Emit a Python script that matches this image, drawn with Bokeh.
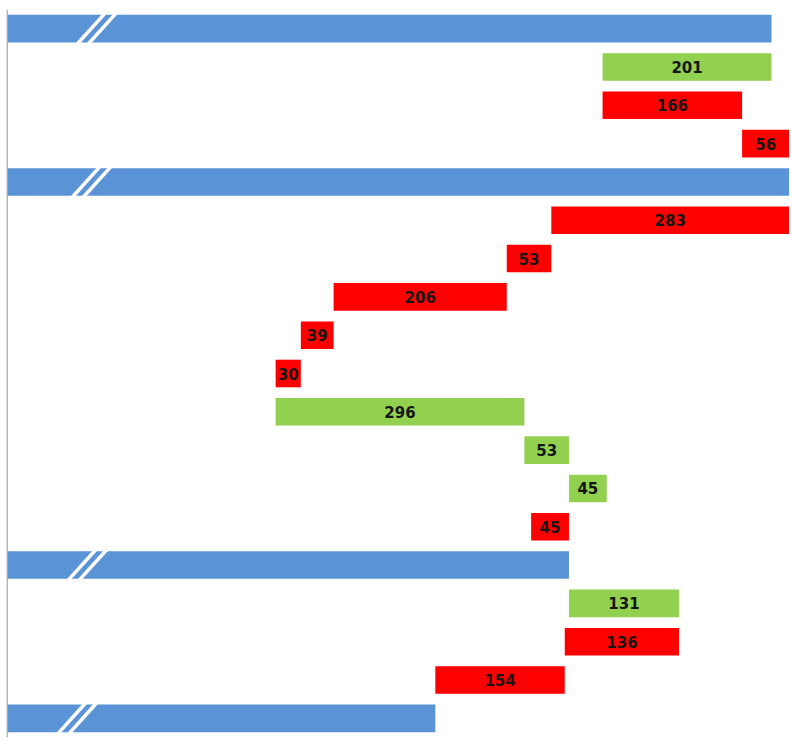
from bokeh.plotting import figure
from bokeh.models import Range1d, Span, ColumnDataSource
from bokeh.core.properties import value
from bokeh.embed import file_html
from bokeh.resources import INLINE

# ---- data ----
axis_start = 4000
# row kinds: "total" = subtotal bar (blue), otherwise a change bar
row_kind = ["total", "chg", "chg", "chg",
            "total", "chg", "chg", "chg", "chg", "chg", "chg", "chg", "chg", "chg",
            "total", "chg", "chg", "chg",
            "total"]
# subtotal values, top to bottom
totals = [4909, 4930, 4668, 4509]
# change bars: value each bar starts from, and the signed change
chg_from = [4909, 4708, 4874,
            4930, 4647, 4594, 4388, 4349, 4319, 4615, 4668, 4668,
            4668, 4799, 4663]
chg_value = [-201, 166, 56,
             -283, -53, -206, -39, -30, 296, 53, 45, -45,
             131, -136, -154]
chg_effect = ["good", "bad", "bad",
              "bad", "bad", "bad", "bad", "bad", "good", "good", "good", "bad",
              "good", "bad", "bad"]
# value along each subtotal bar where the "broken axis" mark sits
break_at = [4106, 4100, 4095, 4083]

BLUE = "#5a93d6"
GREEN = "#92d050"
RED = "#ff0000"

n = len(row_kind)
left, right, color, ys = [], [], [], []
labels, lx, ly = [], [], []
tot_rows = []
ti = ci = 0
for i, k in enumerate(row_kind):
    if k == "total":
        left.append(axis_start); right.append(totals[ti]); color.append(BLUE)
        ys.append(i); tot_rows.append(i); ti += 1
    else:
        a = chg_from[ci]; b = a + chg_value[ci]
        left.append(min(a, b)); right.append(max(a, b)); ys.append(i)
        color.append(GREEN if chg_effect[ci] == "good" else RED)
        labels.append(str(abs(chg_value[ci]))); lx.append((a + b) / 2); ly.append(i)
        ci += 1

FRAME_W = 783
px_per_unit = 0.8405
x0 = axis_start - 1.2
p = figure(width=793, height=742, output_backend="svg", toolbar_location=None,
           x_range=Range1d(x0, x0 + FRAME_W / px_per_unit),
           y_range=Range1d(n - 0.5, -0.5),
           min_border_left=6, min_border_right=4, min_border_top=9, min_border_bottom=5)
p.xaxis.visible = False
p.yaxis.visible = False
p.xgrid.visible = False
p.ygrid.visible = False
p.outline_line_color = None
p.background_fill_color = "white"

src = ColumnDataSource(dict(left=left, right=right, y=ys, color=color))
p.hbar(y="y", left="left", right="right", height=0.72, fill_color="color",
       line_color=None, source=src)

# broken-axis marks on subtotal bars
dx = 26.0 / px_per_unit
gap = 11.0 / px_per_unit
sx0, sy0, sx1, sy1 = [], [], [], []
for r, b in zip(tot_rows, break_at):
    for off in (-gap / 2, gap / 2):
        c = b + off
        sx0.append(c - dx / 2 - 1); sy0.append(r + 0.40)
        sx1.append(c + dx / 2 + 1); sy1.append(r - 0.40)
p.segment(x0=sx0, y0=sy0, x1=sx1, y1=sy1, line_color="white", line_width=3.5)

p.add_layout(Span(location=x0 + 0.6, dimension="height",
                  line_color="#a0a0a0", line_width=1.5))

p.text(x=lx, y=ly, text=labels, text_align="center", text_baseline="middle",
       text_font=value("DejaVu Sans"), text_font_style="bold",
       text_font_size="15px", text_color="#151515")

open("out.html", "w").write(file_html(p, INLINE))
